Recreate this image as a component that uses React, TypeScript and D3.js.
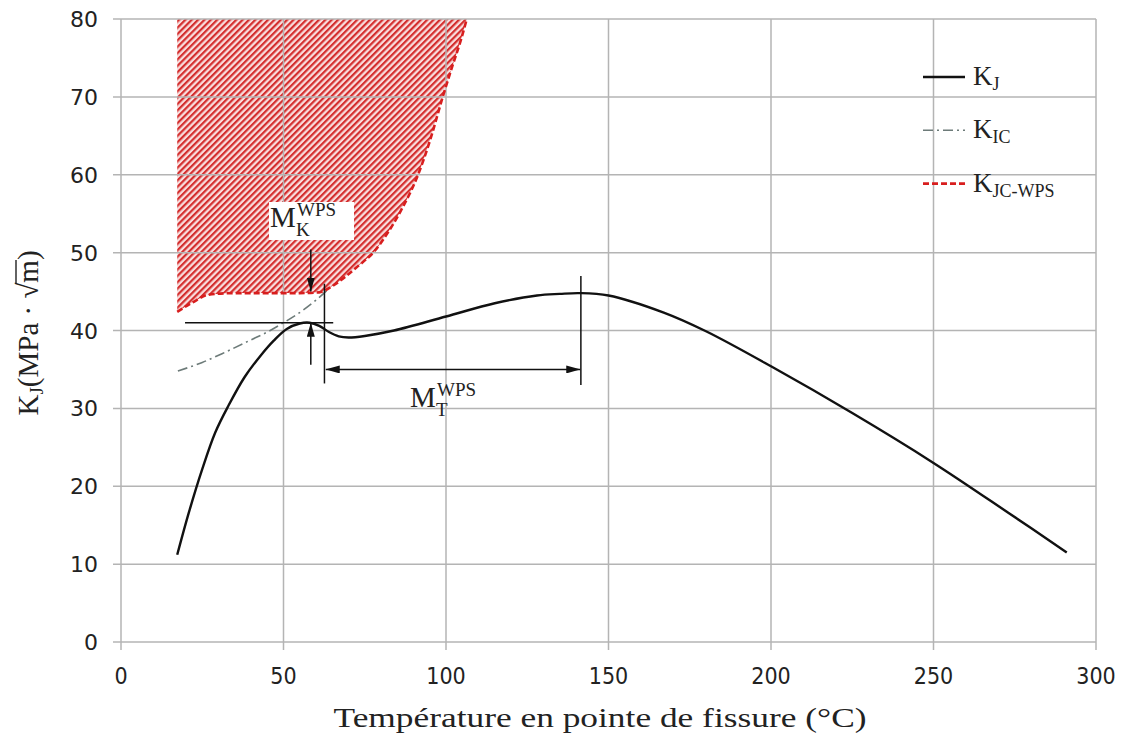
import React, { useEffect, useRef } from "react";
import * as d3 from "d3";

// axis ticks
const xTicks = [0, 50, 100, 150, 200, 250, 300];
const yTicks = [0, 10, 20, 30, 40, 50, 60, 70, 80];

// K_J curve (temperature °C, MPa.sqrt(m))
const kjTemp = [17.3, 21, 25, 29, 33, 38, 43, 47, 51, 55, 58, 61, 64, 67, 70, 75, 84, 100, 115, 128, 135, 141, 150, 167, 180, 200, 225, 250, 273, 291];
const kjValue = [11.2, 16.8, 22.2, 26.9, 30.3, 34.0, 36.8, 38.7, 40.2, 40.9, 41.0, 40.6, 39.8, 39.25, 39.1, 39.3, 40.0, 41.8, 43.5, 44.5, 44.7, 44.8, 44.5, 42.3, 39.9, 35.4, 29.4, 23.0, 16.6, 11.5];

// K_IC curve
const kicTemp = [17.5, 25, 32.5, 40, 45, 50, 56, 60, 63.5];
const kicValue = [34.8, 35.9, 37.3, 38.8, 39.8, 41.0, 42.6, 43.9, 45.2];

// K_JC-WPS boundary of the hatched zone
const wpsTemp = [17.3, 22, 27, 35, 45, 55, 61, 65, 69, 73, 77.6, 82, 86, 91.4, 95, 99, 102, 104.5, 106.4];
const wpsValue = [42.4, 43.6, 44.6, 44.8, 44.8, 44.8, 44.9, 45.7, 46.9, 48.3, 50, 52.5, 55.3, 60, 64.3, 70, 74, 77.2, 80];

const legendItems = [
  { main: "K", sub: "J", color: "#111", dash: "none", width: 2.4 },
  { main: "K", sub: "IC", color: "#6d7b79", dash: "10,4,2,4", width: 1.6 },
  { main: "K", sub: "JC-WPS", color: "#d81e1e", dash: "6,3", width: 2.6 },
];

const serif = "'Liberation Serif', 'Times New Roman', serif";
const sansCond = "'DejaVu Sans Condensed', 'DejaVu Sans', sans-serif";
const sans = "'DejaVu Sans', sans-serif";

function App() {
  const svgRef = useRef<SVGSVGElement>(null);

  useEffect(() => {
    const root = d3.select(svgRef.current);
    root.selectAll("*").remove();

    const margin = { top: 19, right: 25, bottom: 98, left: 121 };
    const width = 1121 - margin.left - margin.right;
    const height = 740 - margin.top - margin.bottom;

    const defs = root.append("defs");
    const pat = defs
      .append("pattern")
      .attr("id", "hatch")
      .attr("patternUnits", "userSpaceOnUse")
      .attr("width", 4.5)
      .attr("height", 10)
      .attr("patternTransform", "rotate(45)");
    pat.append("rect").attr("width", 4.5).attr("height", 10).attr("fill", "#f9dede");
    pat.append("rect").attr("width", 2.2).attr("height", 10).attr("fill", "#d42e2e");

    const marker = defs
      .append("marker")
      .attr("id", "arrow")
      .attr("viewBox", "0 0 14 8")
      .attr("refX", 14)
      .attr("refY", 4)
      .attr("markerUnits", "userSpaceOnUse")
      .attr("markerWidth", 14)
      .attr("markerHeight", 8)
      .attr("orient", "auto-start-reverse");
    marker.append("path").attr("d", "M0,0 L14,4 L0,8 z").attr("fill", "#111");

    const svg = root.append("g").attr("transform", `translate(${margin.left}, ${margin.top})`);

    const x = d3.scaleLinear().domain([0, 300]).range([0, width]);
    const y = d3.scaleLinear().domain([0, 80]).range([height, 0]);

    const line = d3
      .line<number>()
      .x((d) => x(d))
      .curve(d3.curveMonotoneX);

    // hatched zone
    const wpsPath = line.y((_, i) => y(wpsValue[i]))(wpsTemp) || "";
    svg
      .append("path")
      .attr("d", `${wpsPath} L${x(wpsTemp[0])},${y(80)} Z`)
      .attr("fill", "url(#hatch)");

    // grid
    const grid = svg.append("g").attr("stroke", "#b4b4b4").attr("stroke-width", 1.5);
    grid
      .selectAll("line.v")
      .data(xTicks)
      .enter()
      .append("line")
      .attr("x1", (d) => x(d))
      .attr("x2", (d) => x(d))
      .attr("y1", 0)
      .attr("y2", height + 8);
    grid
      .selectAll("line.h")
      .data(yTicks)
      .enter()
      .append("line")
      .attr("x1", -8)
      .attr("x2", width)
      .attr("y1", (d) => y(d))
      .attr("y2", (d) => y(d));

    // tick labels
    svg
      .append("g")
      .selectAll("text")
      .data(xTicks)
      .enter()
      .append("text")
      .attr("x", (d) => x(d))
      .attr("y", height + 42)
      .attr("text-anchor", "middle")
      .attr("font-family", sansCond)
      .attr("font-stretch", "condensed")
      .attr("font-size", 23)
      .attr("fill", "#222")
      .text((d) => d);
    svg
      .append("g")
      .selectAll("text")
      .data(yTicks)
      .enter()
      .append("text")
      .attr("x", -23)
      .attr("y", (d) => y(d) + 8)
      .attr("text-anchor", "end")
      .attr("font-family", sans)
      .attr("font-size", 22)
      .attr("fill", "#222")
      .text((d) => d);

    // K_IC
    svg
      .append("path")
      .attr("d", line.y((_, i) => y(kicValue[i]))(kicTemp) || "")
      .attr("fill", "none")
      .attr("stroke", "#6d7b79")
      .attr("stroke-width", 1.6)
      .attr("stroke-dasharray", "10,4,2,4");

    // K_JC-WPS boundary
    svg
      .append("path")
      .attr("d", wpsPath)
      .attr("fill", "none")
      .attr("stroke", "#d81e1e")
      .attr("stroke-width", 2.6)
      .attr("stroke-dasharray", "6,3");

    // K_J
    svg
      .append("path")
      .attr(
        "d",
        d3
          .line<number>()
          .x((d) => x(d))
          .y((_, i) => y(kjValue[i]))
          .curve(d3.curveCatmullRom.alpha(0.5))(kjTemp) || ""
      )
      .attr("fill", "none")
      .attr("stroke", "#111")
      .attr("stroke-width", 2.4);

    // annotations
    const ann = svg.append("g").attr("stroke", "#111").attr("stroke-width", 1.5);
    ann.append("line").attr("x1", x(19.7)).attr("x2", x(65.3)).attr("y1", y(41)).attr("y2", y(41));
    ann.append("line").attr("x1", x(62.6)).attr("x2", x(62.6)).attr("y1", y(46)).attr("y2", y(33.2));
    ann.append("line").attr("x1", x(141.5)).attr("x2", x(141.5)).attr("y1", y(47)).attr("y2", y(33));
    ann
      .append("line")
      .attr("x1", x(63))
      .attr("x2", x(141.3))
      .attr("y1", y(35))
      .attr("y2", y(35))
      .attr("marker-start", "url(#arrow)")
      .attr("marker-end", "url(#arrow)");
    ann
      .append("line")
      .attr("x1", x(58.4))
      .attr("x2", x(58.4))
      .attr("y1", y(50.4))
      .attr("y2", y(45))
      .attr("marker-end", "url(#arrow)");
    ann
      .append("line")
      .attr("x1", x(58.4))
      .attr("x2", x(58.4))
      .attr("y1", y(35.6))
      .attr("y2", y(41))
      .attr("marker-end", "url(#arrow)");

    // M_K^WPS label on white box
    svg.append("rect").attr("x", 269 - margin.left).attr("y", 202 - margin.top).attr("width", 85).attr("height", 38).attr("fill", "#fff");
    const mLabel = (px: number, py: number, sub: string) => {
      const g = svg.append("g").attr("font-family", serif).attr("fill", "#222");
      g.append("text").attr("x", px - margin.left).attr("y", py - margin.top).attr("font-size", 29).text("M");
      g.append("text").attr("x", px + 27 - margin.left).attr("y", py - 11 - margin.top).attr("font-size", 19).text("WPS");
      g.append("text").attr("x", px + 26 - margin.left).attr("y", py + 9 - margin.top).attr("font-size", 19).text(sub);
    };
    mLabel(270, 227, "K");
    mLabel(410, 407, "T");

    // legend
    legendItems.forEach((it, i) => {
      const ly = 77 + i * 53.3 - margin.top;
      svg
        .append("line")
        .attr("x1", 923 - margin.left)
        .attr("x2", 965 - margin.left)
        .attr("y1", ly)
        .attr("y2", ly)
        .attr("stroke", it.color)
        .attr("stroke-width", it.width)
        .attr("stroke-dasharray", it.dash);
      const t = svg
        .append("text")
        .attr("x", 973 - margin.left)
        .attr("y", ly + 8)
        .attr("font-family", serif)
        .attr("fill", "#222")
        .attr("font-size", 27);
      t.append("tspan").text(it.main);
      t.append("tspan").attr("font-size", 18).attr("dy", 5).text(it.sub);
    });

    // axis titles
    root
      .append("text")
      .attr("x", 600)
      .attr("y", 727)
      .attr("text-anchor", "middle")
      .attr("font-family", serif)
      .attr("font-size", 28)
      .attr("fill", "#222")
      .attr("textLength", 533)
      .attr("lengthAdjust", "spacingAndGlyphs")
      .text("Température en pointe de fissure (°C)");

    const yl = root.append("g").attr("transform", "translate(38, 333) rotate(-90)");
    const ylt = yl
      .append("text")
      .attr("x", 0)
      .attr("y", 0)
      .attr("text-anchor", "middle")
      .attr("font-family", serif)
      .attr("font-size", 29)
      .attr("fill", "#222");
    ylt.append("tspan").text("K");
    ylt.append("tspan").attr("font-size", 19).attr("dy", 5).text("J");
    ylt.append("tspan").attr("dy", -5).text("(MPa · √m)");
    const el = ylt.node() as SVGTextElement;
    const full = el.textContent || "";
    const mi = full.lastIndexOf("m");
    const ext = el.getExtentOfChar(mi);
    const rad = el.getExtentOfChar(mi - 1);
    yl.append("line")
      .attr("x1", rad.x + rad.width - 1)
      .attr("x2", ext.x + ext.width)
      .attr("y1", -22)
      .attr("y2", -22)
      .attr("stroke", "#222")
      .attr("stroke-width", 1.4);
  }, []);

  return (
    <svg
      ref={svgRef}
      width={1121}
      height={740}
      style={{ position: "absolute", left: 0, top: 0, background: "#fff" }}
    ></svg>
  );
}

export default App;
